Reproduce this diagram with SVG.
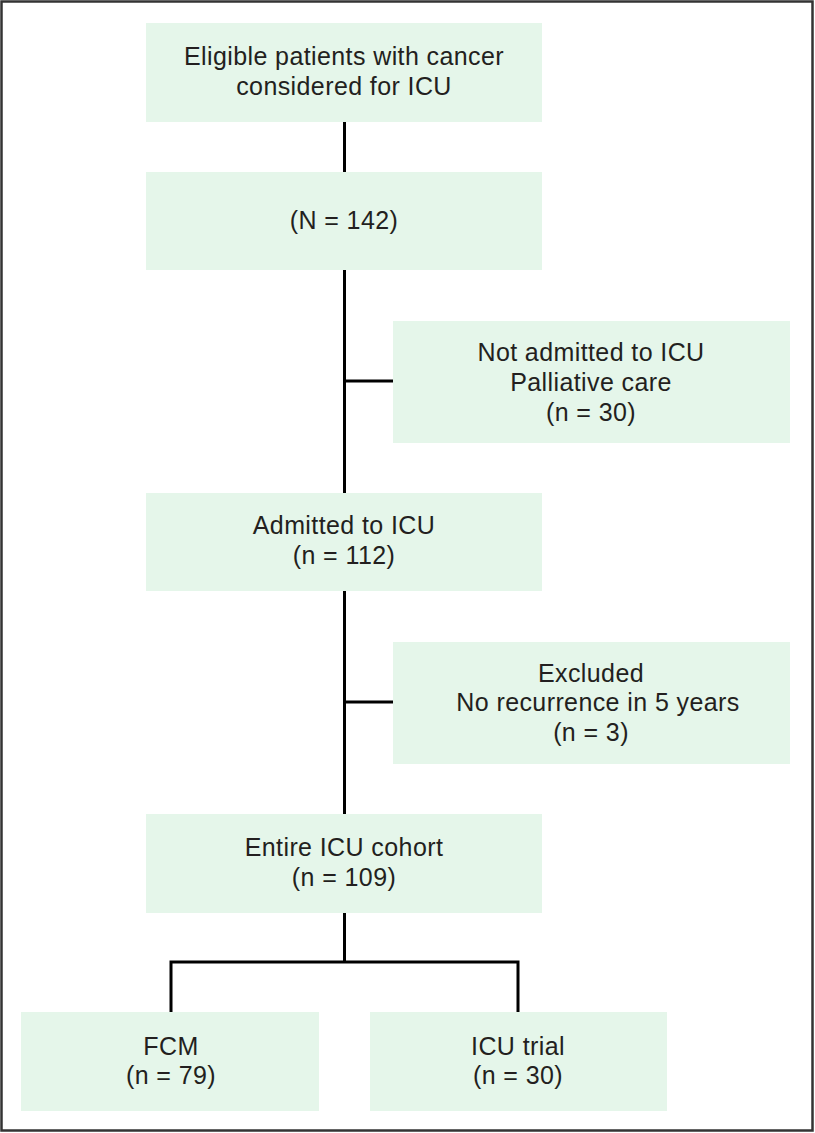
<svg xmlns="http://www.w3.org/2000/svg" width="815" height="1133" viewBox="0 0 815 1133">
<style>
.box{fill:#e5f6ea}
.t{font-family:"Liberation Sans",Arial,Helvetica,sans-serif;font-size:25px;letter-spacing:0.4px;fill:#231f20;text-anchor:middle}
.c{stroke:#000;stroke-width:3;fill:none}
</style>
<rect x="1.5" y="1.5" width="811" height="1129" fill="#fff" stroke="#333" stroke-width="2.5"/>
<g id="connectors">
<line class="c" x1="344.5" y1="122" x2="344.5" y2="172"/>
<line class="c" x1="344.5" y1="270" x2="344.5" y2="493"/>
<line class="c" x1="344.5" y1="591" x2="344.5" y2="814"/>
<line class="c" x1="344.5" y1="913" x2="344.5" y2="962"/>
<line class="c" x1="344.5" y1="381" x2="393" y2="381"/>
<line class="c" x1="344.5" y1="702" x2="393" y2="702"/>
<path class="c" d="M171 1012 V962 H518 V1012"/>
</g>
<g id="eligible">
<rect class="box" x="146" y="23" width="396" height="99"/>
<text class="t" x="344" y="65">Eligible patients with cancer</text>
<text class="t" x="344" y="95">considered for ICU</text>
</g>
<g id="total">
<rect class="box" x="146" y="172" width="396" height="98"/>
<text class="t" x="344" y="229">(N = 142)</text>
</g>
<g id="not-admitted">
<rect class="box" x="393" y="321" width="397" height="122"/>
<text class="t" x="591" y="361">Not admitted to ICU</text>
<text class="t" x="591" y="391">Palliative care</text>
<text class="t" x="591" y="421">(n = 30)</text>
</g>
<g id="admitted">
<rect class="box" x="146" y="493" width="396" height="98"/>
<text class="t" x="344" y="534">Admitted to ICU</text>
<text class="t" x="344" y="564">(n = 112)</text>
</g>
<g id="excluded">
<rect class="box" x="393" y="642" width="397" height="122"/>
<text class="t" x="591" y="682">Excluded</text>
<text class="t" x="598" y="711">No recurrence in 5 years</text>
<text class="t" x="591" y="741">(n = 3)</text>
</g>
<g id="cohort">
<rect class="box" x="146" y="814" width="396" height="99"/>
<text class="t" x="344" y="856">Entire ICU cohort</text>
<text class="t" x="344" y="886">(n = 109)</text>
</g>
<g id="fcm">
<rect class="box" x="21" y="1012" width="298" height="99"/>
<text class="t" x="171" y="1055">FCM</text>
<text class="t" x="171" y="1084">(n = 79)</text>
</g>
<g id="icu-trial">
<rect class="box" x="370" y="1012" width="297" height="99"/>
<text class="t" x="518" y="1055">ICU trial</text>
<text class="t" x="518" y="1084">(n = 30)</text>
</g>
</svg>
